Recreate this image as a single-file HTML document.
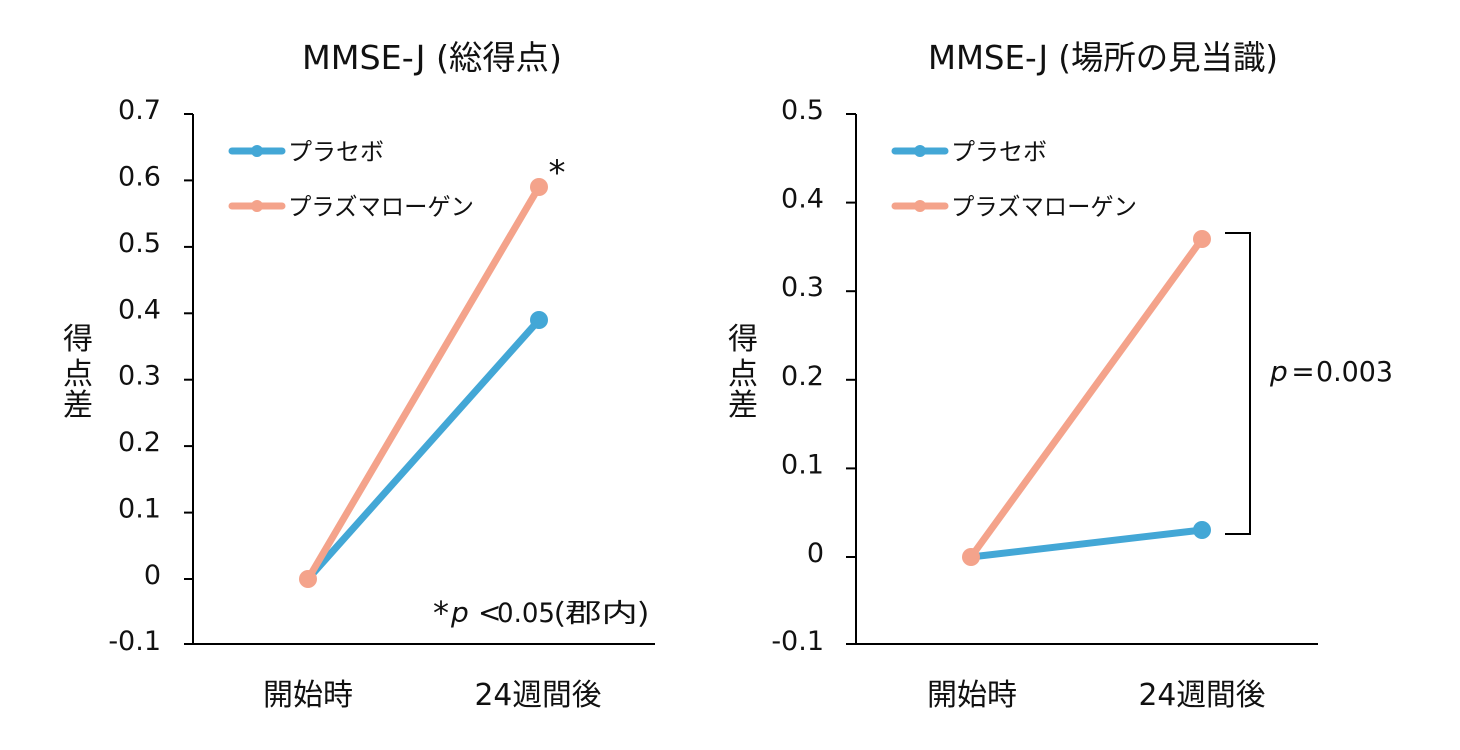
<!DOCTYPE html>
<html><head><meta charset="utf-8"><style>
html,body{margin:0;padding:0;background:#fff;}
svg{display:block;}
text{font-family:"DejaVu Sans","Liberation Sans","Noto Sans CJK JP",sans-serif;fill:#111;}
.cjk{font-family:"Noto Sans CJK JP","DejaVu Sans",sans-serif;}
</style></head><body>
<svg width="1460" height="750" viewBox="0 0 1460 750" xmlns="http://www.w3.org/2000/svg">
<rect width="1460" height="750" fill="#fff"/>

<!-- ============ LEFT CHART ============ -->
<text x="432" y="69" font-size="33" text-anchor="middle" textLength="260" lengthAdjust="spacingAndGlyphs">MMSE-J (<tspan class="cjk">総得点</tspan>)</text>

<g stroke="#000" stroke-width="2" fill="none">
<line x1="193" y1="114" x2="193" y2="645"/>
<line x1="184" y1="644" x2="655" y2="644"/>
<line x1="184" y1="114" x2="193" y2="114"/>
<line x1="184" y1="180.4" x2="193" y2="180.4"/>
<line x1="184" y1="246.9" x2="193" y2="246.9"/>
<line x1="184" y1="313.3" x2="193" y2="313.3"/>
<line x1="184" y1="379.7" x2="193" y2="379.7"/>
<line x1="184" y1="446.1" x2="193" y2="446.1"/>
<line x1="184" y1="512.6" x2="193" y2="512.6"/>
<line x1="184" y1="579" x2="193" y2="579"/>
</g>
<g font-size="27" text-anchor="end">
<text x="161" y="119">0.7</text>
<text x="161" y="185.4">0.6</text>
<text x="161" y="251.9">0.5</text>
<text x="161" y="318.3">0.4</text>
<text x="161" y="384.7">0.3</text>
<text x="161" y="451.1">0.2</text>
<text x="161" y="517.6">0.1</text>
<text x="161" y="584">0</text>
<text x="161" y="650">-0.1</text>
</g>
<text class="cjk" x="78" y="349" font-size="30" text-anchor="middle">得</text>
<text class="cjk" x="78" y="384" font-size="30" text-anchor="middle">点</text>
<text class="cjk" x="78" y="415" font-size="30" text-anchor="middle">差</text>
<text class="cjk" x="308" y="705" font-size="30" text-anchor="middle">開始時</text>
<text x="538" y="705" font-size="30" text-anchor="middle" textLength="127" lengthAdjust="spacingAndGlyphs">24<tspan class="cjk">週間後</tspan></text>

<!-- legend -->
<line x1="232" y1="151" x2="282" y2="151" stroke="#43A7D6" stroke-width="7" stroke-linecap="round"/>
<circle cx="257" cy="151" r="6" fill="#43A7D6"/>
<text class="cjk" x="288" y="160" font-size="24">プラセボ</text>
<line x1="232" y1="206" x2="282" y2="206" stroke="#F4A38B" stroke-width="7" stroke-linecap="round"/>
<circle cx="257" cy="206" r="6" fill="#F4A38B"/>
<text class="cjk" x="288" y="215" font-size="24" textLength="186" lengthAdjust="spacingAndGlyphs">プラズマローゲン</text>

<!-- series -->
<line x1="308" y1="579" x2="539" y2="320" stroke="#43A7D6" stroke-width="7"/>
<circle cx="539" cy="320" r="9" fill="#43A7D6"/>
<line x1="308" y1="579" x2="539" y2="187" stroke="#F4A38B" stroke-width="7"/>
<circle cx="539" cy="187" r="9" fill="#F4A38B"/>
<circle cx="308" cy="579" r="9" fill="#F4A38B"/>

<text x="557" y="184" font-size="34" text-anchor="middle">*</text>

<text x="441" y="624" font-size="32" text-anchor="middle">*</text>
<text x="451" y="622" font-size="28" font-style="italic">p</text>
<text x="478" y="622" font-size="28">&lt;</text>
<text x="497" y="622" font-size="27" textLength="58" lengthAdjust="spacingAndGlyphs">0.05</text>
<text class="cjk" x="553" y="622" font-size="26" textLength="97" lengthAdjust="spacingAndGlyphs">(郡内)</text>

<!-- ============ RIGHT CHART ============ -->
<text x="1103" y="69" font-size="33" text-anchor="middle" textLength="350" lengthAdjust="spacingAndGlyphs">MMSE-J (<tspan class="cjk">場所の見当識</tspan>)</text>

<g stroke="#000" stroke-width="2" fill="none">
<line x1="856" y1="114" x2="856" y2="645"/>
<line x1="846" y1="644" x2="1318" y2="644"/>
<line x1="846" y1="114" x2="856" y2="114"/>
<line x1="846" y1="202.6" x2="856" y2="202.6"/>
<line x1="846" y1="291.2" x2="856" y2="291.2"/>
<line x1="846" y1="379.8" x2="856" y2="379.8"/>
<line x1="846" y1="468.4" x2="856" y2="468.4"/>
<line x1="846" y1="557" x2="856" y2="557"/>
<polyline points="1225,233 1250,233 1250,534 1225,534"/>
</g>
<g font-size="27" text-anchor="end">
<text x="824" y="119">0.5</text>
<text x="824" y="207.6">0.4</text>
<text x="824" y="296.2">0.3</text>
<text x="824" y="384.8">0.2</text>
<text x="824" y="473.4">0.1</text>
<text x="824" y="562">0</text>
<text x="824" y="650">-0.1</text>
</g>
<text class="cjk" x="743" y="349" font-size="30" text-anchor="middle">得</text>
<text class="cjk" x="743" y="384" font-size="30" text-anchor="middle">点</text>
<text class="cjk" x="743" y="415" font-size="30" text-anchor="middle">差</text>
<text class="cjk" x="972" y="705" font-size="30" text-anchor="middle">開始時</text>
<text x="1202" y="705" font-size="30" text-anchor="middle" textLength="127" lengthAdjust="spacingAndGlyphs">24<tspan class="cjk">週間後</tspan></text>

<line x1="895" y1="151" x2="945" y2="151" stroke="#43A7D6" stroke-width="7" stroke-linecap="round"/>
<circle cx="920" cy="151" r="6" fill="#43A7D6"/>
<text class="cjk" x="951" y="160" font-size="24">プラセボ</text>
<line x1="895" y1="206" x2="945" y2="206" stroke="#F4A38B" stroke-width="7" stroke-linecap="round"/>
<circle cx="920" cy="206" r="6" fill="#F4A38B"/>
<text class="cjk" x="951" y="215" font-size="24" textLength="186" lengthAdjust="spacingAndGlyphs">プラズマローゲン</text>

<line x1="971" y1="557" x2="1202" y2="530" stroke="#43A7D6" stroke-width="7"/>
<circle cx="1202" cy="530" r="9" fill="#43A7D6"/>
<line x1="971" y1="557" x2="1202" y2="239" stroke="#F4A38B" stroke-width="7"/>
<circle cx="1202" cy="239" r="9" fill="#F4A38B"/>
<circle cx="971" cy="557" r="9" fill="#F4A38B"/>

<text x="1270" y="381" font-size="28" font-style="italic">p</text>
<text x="1303" y="381" font-size="28" text-anchor="middle">=</text>
<text x="1316" y="381" font-size="28" textLength="77" lengthAdjust="spacingAndGlyphs">0.003</text>
</svg>
</body></html>
